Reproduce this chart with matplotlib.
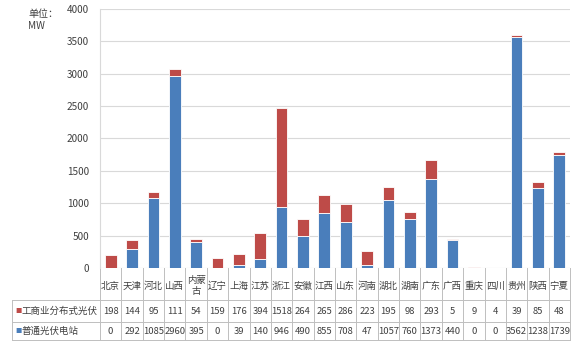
import numpy as np
import matplotlib
matplotlib.use("Agg")
import matplotlib.pyplot as plt
import matplotlib.transforms as mtransforms

plt.rcParams['font.family'] = ['Noto Sans CJK SC', 'DejaVu Sans']

provinces = ["北京", "天津", "河北", "山西", "内蒙\n古", "辽宁", "上海", "江苏", "浙江", "安徽", "江西",
             "山东", "河南", "湖北", "湖南", "广东", "广西", "重庆", "四川", "贵州", "陕西", "宁夏"]
distributed = [198, 144, 95, 111, 54, 159, 176, 394, 1518, 264, 265, 286, 223, 195, 98, 293, 5, 9, 4, 39, 85, 48]
station = [0, 292, 1085, 2960, 395, 0, 39, 140, 946, 490, 855, 708, 47, 1057, 760, 1373, 440, 0, 0, 3562, 1238, 1739]
series_names = ["工商业分布式光伏", "普通光伏电站"]
yticks = [0, 500, 1000, 1500, 2000, 2500, 3000, 3500, 4000]

blue = "#4A7EBB"
red = "#BE4B48"
grid_c = "#D9D9D9"
text_c = "#404040"
fs = 6.8

fig = plt.figure(figsize=(5.8, 3.46), dpi=100)
ax = fig.add_axes([100 / 580, 1 - 268 / 346, 470 / 580, 259 / 346])

x = np.arange(len(provinces))
ax.bar(x, station, width=0.55, color=blue, edgecolor="white", linewidth=0.6, zorder=3)
ax.bar(x, distributed, width=0.55, bottom=station, color=red, edgecolor="white", linewidth=0.6, zorder=3)

ax.set_xlim(-0.5, len(provinces) - 0.5)
ax.set_ylim(0, 4000)
ax.set_yticks(yticks)
ax.set_yticklabels([str(t) for t in yticks], fontsize=7.2, color=text_c)
ax.tick_params(axis="y", length=0, pad=8)
ax.set_xticks([])
ax.yaxis.grid(True, color=grid_c, linewidth=0.8, zorder=0)
for s in ["top", "right", "bottom"]:
    ax.spines[s].set_visible(False)
ax.spines["left"].set_color(grid_c)

fig.text(28 / 580, 1 - 20 / 346, "单位：\nMW", fontsize=7.2, color=text_c, va="center", linespacing=1.2)

# data table below the plot
trans = mtransforms.blended_transform_factory(ax.transData, ax.transAxes)
h_px = 259.0
def yf(px):
    return (268 - px) / h_px

lw = 0.7
lc = "#BFBFBF"
for i in range(len(provinces) + 1):
    ax.plot([i - 0.5, i - 0.5], [0, yf(340)], transform=trans, color=lc, lw=lw, clip_on=False)
left_x = (12 - 100) / 470
for py in [300, 322, 340]:
    ax.plot([left_x, 1], [yf(py), yf(py)], transform=ax.transAxes, color=lc, lw=lw, clip_on=False)
ax.plot([left_x, left_x], [yf(300), yf(340)], transform=ax.transAxes, color=lc, lw=lw, clip_on=False)

for i, p in enumerate(provinces):
    ax.text(i, yf(286), p, transform=trans, ha="center", va="center", fontsize=fs,
            color=text_c, linespacing=1.3, clip_on=False)
    ax.text(i, yf(311), str(distributed[i]), transform=trans, ha="center", va="center",
            fontsize=fs, color=text_c, clip_on=False)
    ax.text(i, yf(331), str(station[i]), transform=trans, ha="center", va="center",
            fontsize=fs, color=text_c, clip_on=False)

for name, col, py in [(series_names[0], red, 311), (series_names[1], blue, 331)]:
    ax.text((15 - 100) / 470, yf(py), "■", transform=ax.transAxes, ha="left", va="center",
            fontsize=4.5, color=col, clip_on=False)
    ax.text((21 - 100) / 470, yf(py), name, transform=ax.transAxes, ha="left", va="center",
            fontsize=fs, color=text_c, clip_on=False)

fig.savefig("out.png", dpi=100)
